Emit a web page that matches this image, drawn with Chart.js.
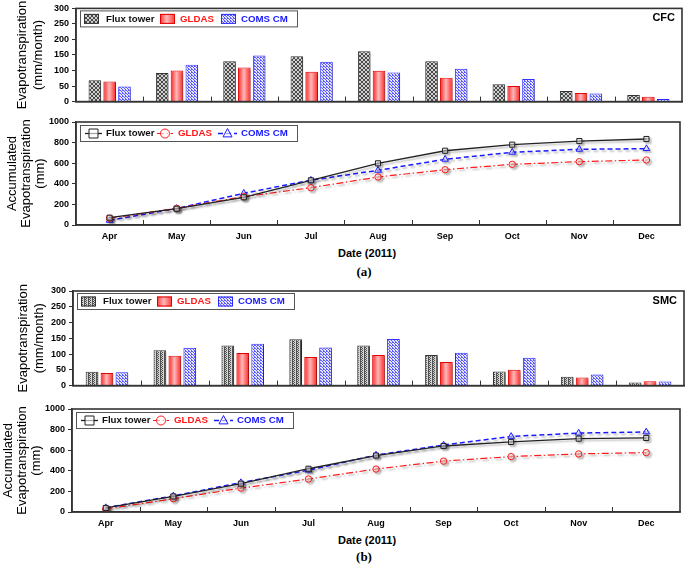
<!DOCTYPE html>
<html><head><meta charset="utf-8">
<script src="https://cdn.jsdelivr.net/npm/chart.js"></script>
<style>
html,body{margin:0;padding:0;background:#fff;}
#wrap{position:relative;width:685px;height:564px;background:#fff;overflow:hidden;}
.cv{position:absolute;left:0;}
.lbl{position:absolute;white-space:nowrap;transform:translate(-50%,-50%);color:#000;}
.date{font:bold 11px "Liberation Sans",Arial,sans-serif;}
.pl{font:bold 13px "Liberation Serif","Times New Roman",serif;}
</style></head>
<body>
<div id="wrap">
  <canvas id="c1" class="cv" width="685" height="110" style="top:0px"></canvas>
  <canvas id="c2" class="cv" width="685" height="134" style="top:112px"></canvas>
  <div class="lbl date" style="left:367px;top:253px">Date (2011)</div>
  <div class="lbl pl" style="left:364px;top:272px">(a)</div>
  <canvas id="c3" class="cv" width="685" height="112" style="top:282px"></canvas>
  <canvas id="c4" class="cv" width="685" height="136" style="top:398px"></canvas>
  <div class="lbl date" style="left:367px;top:540px">Date (2011)</div>
  <div class="lbl pl" style="left:364px;top:557px">(b)</div>
</div>
<script>
// ---------- data ----------
const months = ['Apr','May','Jun','Jul','Aug','Sep','Oct','Nov','Dec'];
const seriesNames = ['Flux tower','GLDAS','COMS CM'];
const barTicks = [0,50,100,150,200,250,300];
const accTicks = [0,200,400,600,800,1000];

const cfcFlux  = [69, 92, 130, 146, 162, 130, 56, 34, 21];
const cfcGldas = [65, 100, 110, 96, 99, 77, 50, 28, 16];
const cfcComs  = [49, 119, 148, 128, 94, 106, 73, 26, 8];

const cfcAccFlux  = [71, 158, 269, 434, 599, 721, 780, 815, 835];
const cfcAccGldas = [65, 162, 275, 362, 466, 537, 589, 615, 631];
const cfcAccComs  = [45, 160, 308, 435, 531, 638, 706, 735, 741];

const smcFlux  = [44, 112, 127, 147, 127, 97, 45, 28, 10];
const smcGldas = [40, 95, 103, 91, 97, 75, 50, 26, 14];
const smcComs  = [42, 120, 133, 121, 148, 104, 88, 35, 13];

const smcAccFlux  = [39, 151, 275, 420, 548, 641, 680, 712, 719];
const smcAccGldas = [30, 129, 232, 320, 417, 494, 538, 564, 577];
const smcAccComs  = [42, 156, 285, 406, 553, 650, 734, 766, 777];

// ---------- styles ----------
const FONT = '"Liberation Sans", Arial, sans-serif';
const RED = '#ff1a1a', BLUE = '#1a1aff', BLACK = '#222';

function makePattern(w, h, bg, fg, pts) {
  const c = document.createElement('canvas'); c.width = w; c.height = h;
  const g = c.getContext('2d');
  g.fillStyle = bg; g.fillRect(0,0,w,h);
  g.fillStyle = fg; pts.forEach(p => g.fillRect(p[0], p[1], 1, 1));
  return document.createElement('canvas').getContext('2d').createPattern(c, 'repeat');
}
const patCross = makePattern(4,4,'#cfcfcf','#4a4a4a',[[0,0],[1,1],[2,2],[3,3],[3,0],[2,1],[1,2],[0,3]]);
const patVert  = makePattern(4,2,'#d4d4d4','#505050',[[0,0],[0,1],[2,0],[1,1]]);
const patDots  = makePattern(3,3,'#e4e4ff','#5a5aff',[[0,0],[1,1],[2,2],[2,0]]);

// ---------- plugins ----------
const shadowPlugin = {
  id: 'shadow',
  beforeDatasetsDraw(chart) {
    const c = chart.ctx; c.save();
    c.shadowColor = 'rgba(0,0,0,0.28)'; c.shadowOffsetX = 2; c.shadowOffsetY = 2; c.shadowBlur = 2;
  },
  afterDatasetsDraw(chart) { chart.ctx.restore(); }
};

function glossRect(ctx, left, top, w, h) {
  const g = ctx.createLinearGradient(left, 0, left + w, 0);
  g.addColorStop(0, 'rgba(255,255,255,0)');
  g.addColorStop(0.45, 'rgba(255,255,255,0.65)');
  g.addColorStop(1, 'rgba(255,255,255,0)');
  ctx.fillStyle = g; ctx.fillRect(left, top, w, h);
}

const glossPlugin = {
  id: 'gloss',
  afterDatasetDraw(chart, args) {
    if (chart.config.type !== 'bar' || args.index !== 1) return;
    const ctx = chart.ctx; ctx.save();
    ctx.shadowColor = 'rgba(0,0,0,0)';
    args.meta.data.forEach(el => {
      const p = el.getProps(['x','y','base','width'], true);
      const l = p.x - p.width/2 + 1;
      glossRect(ctx, l, p.y + 1, p.width - 2, p.base - p.y - 1);
    });
    ctx.restore();
  }
};

function drawMarker(ctx, style, x, y, r, color) {
  ctx.save(); ctx.setLineDash([]); ctx.strokeStyle = color; ctx.lineWidth = 1;
  ctx.fillStyle = 'rgba(255,255,255,0.6)';
  ctx.beginPath();
  if (style === 'rect') ctx.rect(x - r, y - r, 2*r, 2*r);
  else if (style === 'circle') ctx.arc(x, y, r, 0, Math.PI*2);
  else { ctx.moveTo(x, y - r*1.1); ctx.lineTo(x + r, y + r*0.75); ctx.lineTo(x - r, y + r*0.75); ctx.closePath(); }
  ctx.fill(); ctx.stroke(); ctx.restore();
}

const decorPlugin = {
  id: 'decor',
  afterDraw(chart, args, o) {
    const ctx = chart.ctx, a = chart.chartArea, xs = chart.scales.x;
    ctx.save();
    // boundary tick marks on the x axis
    const n = chart.data.labels.length;
    const step = xs.getPixelForValue(1) - xs.getPixelForValue(0);
    ctx.strokeStyle = '#333'; ctx.lineWidth = 1;
    for (let i = 1; i < n; i++) {
      const px = Math.round(xs.getPixelForValue(i) - step/2) + 0.5;
      ctx.beginPath(); ctx.moveTo(px, a.bottom); ctx.lineTo(px, a.bottom - 5); ctx.stroke();
    }
    // frame
    ctx.strokeStyle = '#333'; ctx.lineWidth = 1.6;
    ctx.strokeRect(a.left, a.top, a.right - a.left, a.bottom - a.top);
    // legend box
    const bx = a.left + 4, by = a.top + o.legendTop, bw = 217, bh = 16;
    ctx.fillStyle = '#fff'; ctx.fillRect(bx, by, bw, bh);
    ctx.strokeStyle = '#555'; ctx.lineWidth = 1;
    ctx.strokeRect(bx + 0.5, by + 0.5, bw, bh);
    const cy = by + bh/2 + 0.5;
    const ds = chart.data.datasets;
    const textX = o.type === 'bar' ? [26, 100, 161] : [26, 98, 161];
    const textCol = ['#111', RED, BLUE];
    if (o.type === 'bar') {
      const sw = [4, 80, 141];
      ds.forEach((d, i) => {
        const sx = bx + sw[i], sy = cy - 5;
        ctx.fillStyle = d.backgroundColor; ctx.fillRect(sx, sy, 15, 10);
        if (i === 1) glossRect(ctx, sx, sy, 15, 10);
        ctx.strokeStyle = d.borderColor; ctx.strokeRect(sx + 0.5, sy + 0.5, 14, 9);
      });
    } else {
      const sym = [[5,22],[77,93],[138,157]];
      ds.forEach((d, i) => {
        ctx.save();
        ctx.strokeStyle = d.borderColor; ctx.lineWidth = d.borderWidth;
        ctx.setLineDash(d.borderDash || []);
        ctx.beginPath(); ctx.moveTo(bx + sym[i][0], cy); ctx.lineTo(bx + sym[i][1], cy); ctx.stroke();
        ctx.restore();
        drawMarker(ctx, d.pointStyle, bx + (sym[i][0] + sym[i][1])/2, cy, 4.5, d.borderColor);
      });
    }
    ctx.font = 'bold 9.7px ' + FONT; ctx.textBaseline = 'middle'; ctx.textAlign = 'left';
    seriesNames.forEach((s, i) => { ctx.fillStyle = textCol[i]; ctx.fillText(s, bx + textX[i], cy); });
    // site tag
    if (o.tag) {
      ctx.fillStyle = '#000'; ctx.font = 'bold 11px ' + FONT; ctx.textAlign = 'right';
      ctx.fillText(o.tag, a.right - 7, a.top + 10);
    }
    ctx.restore();
  }
};

// ---------- axis builders ----------
function yAxis(width, ticks, title, lh, pad) {
  return {
    min: ticks[0], max: ticks[ticks.length - 1],
    afterBuildTicks: s => { s.ticks = ticks.map(v => ({ value: v })); },
    afterFit: s => { s.width = width; },
    grid: { display: true, drawOnChartArea: false, drawTicks: true, tickLength: 4, color: '#333' },
    border: { display: true, color: '#333', width: 1.5 },
    ticks: { color: '#000', font: { family: FONT, size: 9, weight: 'bold' }, padding: 3, autoSkip: false, callback: v => String(v) },
    title: { display: true, text: title, color: '#000', font: { family: FONT, size: 13, lineHeight: lh }, padding: { top: pad, bottom: 0 } }
  };
}
function xAxis(height, showLabels, pad) {
  return {
    type: 'category', offset: true,
    afterFit: s => { s.height = height; },
    grid: { display: false, drawTicks: false, offset: true },
    border: { display: true, color: '#333', width: 1.5 },
    ticks: { display: showLabels, color: '#000', font: { family: FONT, size: 9, weight: 'bold' }, padding: pad, maxRotation: 0, autoSkip: false }
  };
}

function makeBar(id, flux, gldas, coms, g) {
  new Chart(document.getElementById(id), {
    type: 'bar',
    data: {
      labels: months,
      datasets: [
        { label: seriesNames[0], data: flux, backgroundColor: g.fluxPat, borderColor: '#333', borderWidth: 1 },
        { label: seriesNames[1], data: gldas, backgroundColor: '#ff3838', borderColor: '#e00000', borderWidth: 1 },
        { label: seriesNames[2], data: coms, backgroundColor: patDots, borderColor: '#2a2aff', borderWidth: 1 }
      ]
    },
    options: {
      responsive: false, animation: false,
      datasets: { bar: { categoryPercentage: 0.66, barPercentage: 0.85 } },
      layout: { padding: { left: 0, top: g.top, right: g.right, bottom: 0 } },
      scales: { x: xAxis(g.xh, false, 0), y: yAxis(g.left, barTicks, ['Evapotranspiration', '(mm/month)'], 1.25, g.tpad) },
      plugins: { legend: { display: false }, tooltip: { enabled: false }, decor: { type: 'bar', legendTop: 2, tag: g.tag } }
    },
    plugins: [shadowPlugin, glossPlugin, decorPlugin]
  });
}

function makeLine(id, flux, gldas, coms, g) {
  new Chart(document.getElementById(id), {
    type: 'line',
    data: {
      labels: months,
      datasets: [
        { label: seriesNames[0], data: flux, borderColor: BLACK, borderWidth: 1.3, pointStyle: 'rect', pointRadius: 3.6, pointBorderWidth: 1, pointBackgroundColor: 'rgba(230,230,230,0.6)', tension: 0 },
        { label: seriesNames[1], data: gldas, borderColor: RED, borderWidth: 1.2, borderDash: [7, 2.5, 1.5, 2.5], pointStyle: 'circle', pointRadius: 3.2, pointBorderWidth: 1, pointBackgroundColor: 'rgba(255,230,230,0.6)', tension: 0 },
        { label: seriesNames[2], data: coms, borderColor: BLUE, borderWidth: 1.5, borderDash: [5, 3], pointStyle: 'triangle', pointRadius: 3.8, pointBorderWidth: 1, pointBackgroundColor: 'rgba(230,230,255,0.6)', tension: 0 }
      ]
    },
    options: {
      responsive: false, animation: false,
      layout: { padding: { left: 0, top: g.top, right: g.right, bottom: 0 } },
      scales: { x: xAxis(g.xh, true, g.lpad), y: yAxis(g.left, accTicks, ['Accumulated', 'Evapotranspiration', '(mm)'], 1.1, g.tpad) },
      plugins: { legend: { display: false }, tooltip: { enabled: false }, decor: { type: 'line', legendTop: 3 } }
    },
    plugins: [shadowPlugin, decorPlugin]
  });
}

makeBar('c1', cfcFlux, cfcGldas, cfcComs, { top: 5, right: 3, xh: 4, left: 76, tpad: 14, tag: 'CFC', fluxPat: patCross });
makeLine('c2', cfcAccFlux, cfcAccGldas, cfcAccComs, { top: 10, right: 3, xh: 21, left: 76, tpad: 5, lpad: 6 });
makeBar('c3', smcFlux, smcGldas, smcComs, { top: 9, right: 1, xh: 2, left: 73, tpad: 15, tag: 'SMC', fluxPat: patVert });
makeLine('c4', smcAccFlux, smcAccGldas, smcAccComs, { top: 11, right: 1, xh: 22, left: 72, tpad: 1, lpad: 6 });
</script>
</body></html>
